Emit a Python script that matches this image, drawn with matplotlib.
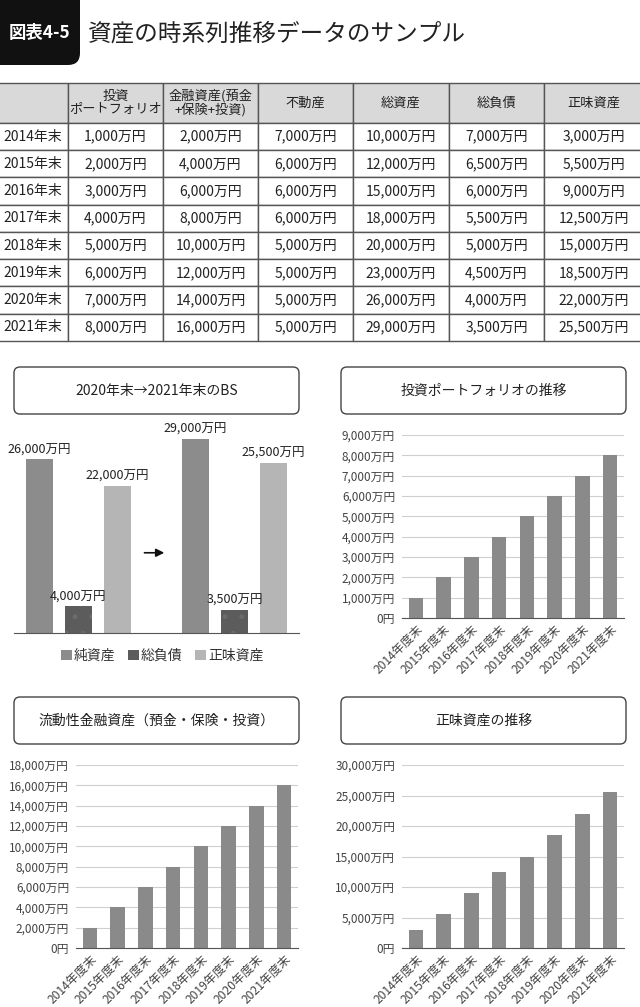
import matplotlib
matplotlib.use("Agg")
import matplotlib.pyplot as plt
from matplotlib.patches import FancyBboxPatch, Patch
from matplotlib.ticker import FixedLocator

plt.rcParams['font.family'] = ['Noto Sans CJK JP', 'DejaVu Sans']

# data
years = ['2014年末', '2015年末', '2016年末', '2017年末', '2018年末', '2019年末', '2020年末', '2021年末']
fiscal_years = ['2014年度末', '2015年度末', '2016年度末', '2017年度末',
                '2018年度末', '2019年度末', '2020年度末', '2021年度末']
col_headers = ['', '投資\nポートフォリオ', '金融資産(預金\n+保険+投資)', '不動産', '総資産', '総負債', '正味資産']
portfolio = [1000, 2000, 3000, 4000, 5000, 6000, 7000, 8000]
financial = [2000, 4000, 6000, 8000, 10000, 12000, 14000, 16000]
real_estate = [7000, 6000, 6000, 6000, 5000, 5000, 5000, 5000]
total_assets = [10000, 12000, 15000, 18000, 20000, 23000, 26000, 29000]
total_liab = [7000, 6500, 6000, 5500, 5000, 4500, 4000, 3500]
net_assets = [3000, 5500, 9000, 12500, 15000, 18500, 22000, 25500]

bs_legend = ['純資産', '総負債', '正味資産']
bs_2020 = [26000, 4000, 22000]
bs_2021 = [29000, 3500, 25500]

W, H = 640, 1007
BAR = '#8a8a8a'
TXT = '#222222'


def px_rect(x0, y0, x1, y1):
    # pixel box (top-left origin) -> figure fraction rect
    return [x0 / W, 1 - y1 / H, (x1 - x0) / W, (y1 - y0) / H]


def man(v):
    return '0円' if v == 0 else f'{int(v):,}万円'


fig = plt.figure(figsize=(W / 100, H / 100), dpi=100)

# decoration layer in pixel coords
deco = fig.add_axes([0, 0, 1, 1])
deco.set_xlim(0, W)
deco.set_ylim(H, 0)
deco.axis('off')

deco.add_patch(FancyBboxPatch((-12, -12), 92, 77, boxstyle='round,pad=0,rounding_size=12',
                              fc='#111111', ec='none'))
deco.text(40, 33, '図表4-5', color='white', fontsize=12.5, fontweight='bold', ha='center', va='center')
deco.text(88, 34, '資産の時系列推移データのサンプル', color=TXT, fontsize=17, ha='left', va='center')

# chart title boxes
title_boxes = [
    ((14, 367, 299, 414), '2020年末→2021年末のBS'),
    ((341, 367, 626, 414), '投資ポートフォリオの推移'),
    ((14, 697, 299, 744), '流動性金融資産（預金・保険・投資）'),
    ((341, 697, 626, 744), '正味資産の推移'),
]
for (x0, y0, x1, y1), label in title_boxes:
    deco.add_patch(FancyBboxPatch((x0, y0), x1 - x0, y1 - y0, boxstyle='round,pad=0,rounding_size=6',
                                  fc='white', ec='#444444', lw=1))
    deco.text((x0 + x1) / 2, (y0 + y1) / 2, label, color=TXT, fontsize=10, ha='center', va='center')

# table (outer side borders pushed just off the canvas)
tab_ax = fig.add_axes(px_rect(0, 83, 640, 341))
tab_ax.axis('off')
rows = [col_headers]
for i in range(len(years)):
    rows.append([years[i], man(portfolio[i]), man(financial[i]), man(real_estate[i]),
                 man(total_assets[i]), man(total_liab[i]), man(net_assets[i])])
col_w = [71, 95, 95, 95, 96, 95, 99]
tbl = tab_ax.table(cellText=rows, colWidths=[c / 640 for c in col_w], cellLoc='center',
                   bbox=[-3 / 640, 0, 646 / 640, 1])
tbl.auto_set_font_size(False)
tbl.set_fontsize(10)
for (r, c), cell in tbl.get_celld().items():
    cell.set_height(40 if r == 0 else 27.3)
    cell.set_edgecolor('#555555')
    cell.set_linewidth(1)
    cell.get_text().set_color(TXT)
    if r == 0:
        cell.set_facecolor('#d9d9d9')
        cell.get_text().set_fontsize(9.5)
        cell.get_text().set_linespacing(1.05)

# BS chart
bs = fig.add_axes(px_rect(14, 399, 299, 633))
bs.patch.set_visible(False)
bs_pos_2020 = [0, 1, 2]
bs_pos_2021 = [4, 5, 6]
bs_colors = ['#8c8c8c', '#5c5c5c', '#b5b5b5']
for pos, vals in ((bs_pos_2020, bs_2020), (bs_pos_2021, bs_2021)):
    for p, v, col in zip(pos, vals, bs_colors):
        hatch = '.' if col == '#5c5c5c' else None
        bs.bar(p, v, width=0.7, color=col, hatch=hatch, edgecolor='#6c6c6c', lw=0)
        bs.text(p, v + 450, man(v), ha='center', va='bottom', fontsize=9, color=TXT)
bs.annotate('', xy=(3.27, 12000), xytext=(2.62, 12000),
            arrowprops=dict(arrowstyle='-|>', color='#111111', lw=1.2,
                            mutation_scale=12))
bs.set_xlim(-0.65, 6.65)
bs.set_ylim(0, 35000)
for s in ['top', 'right', 'left']:
    bs.spines[s].set_visible(False)
bs.spines['bottom'].set_color('#555555')
bs.set_xticks([])
bs.set_yticks([])
handles = [Patch(fc=c, ec='none') for c in bs_colors]
bs.legend(handles, bs_legend, loc='upper center', bbox_to_anchor=(0.52, -0.015), ncol=3,
          frameon=False, fontsize=10, handlelength=0.8, handleheight=0.8,
          handletextpad=0.15, columnspacing=0.9, labelcolor='#333333')


def trend_chart(rect, values, ymax, step):
    ax = fig.add_axes(px_rect(*rect))
    ax.patch.set_visible(False)
    x = range(len(values))
    ax.bar(x, values, width=0.52, color=BAR, zorder=3)
    ax.set_xlim(-0.5, len(values) - 0.5)
    ax.set_ylim(0, ymax)
    ticks = list(range(0, ymax + 1, step))
    ax.yaxis.set_major_locator(FixedLocator(ticks))
    ax.set_yticklabels([man(t) for t in ticks])
    ax.grid(axis='y', color='#cfcfcf', lw=0.8, zorder=0)
    ax.set_xticks(list(x))
    ax.set_xticklabels(fiscal_years, rotation=45, ha='right', rotation_mode='anchor', fontsize=8.7)
    ax.tick_params(axis='both', length=0, labelcolor='#444444')
    ax.tick_params(axis='y', pad=5, labelsize=8.5)
    ax.tick_params(axis='x', pad=3)
    for s in ['top', 'right', 'left']:
        ax.spines[s].set_visible(False)
    ax.spines['bottom'].set_color('#555555')
    ax.spines['bottom'].set_zorder(4)
    return ax


trend_chart((402, 435, 624, 618), portfolio, 9000, 1000)
trend_chart((76, 765, 298, 948), financial, 18000, 2000)
trend_chart((402, 765, 624, 948), net_assets, 30000, 5000)

fig.savefig('out.png', dpi=100, facecolor='white')
